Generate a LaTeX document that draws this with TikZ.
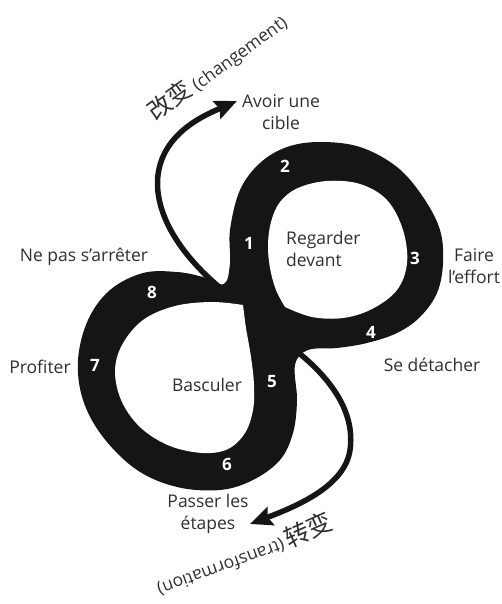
\documentclass[tikz,border=0pt]{standalone}
\usepackage{fontspec}
\setmainfont{Open Sans}
\newfontfamily\cjk{Noto Sans CJK SC}
\usetikzlibrary{arrows.meta}
\definecolor{ink}{HTML}{151515}
\definecolor{txt}{HTML}{303030}

\begin{document}
\begin{tikzpicture}[x=1pt, y=-1pt,
    lab/.style={text=txt, font=\fontsize{17.5}{22}\selectfont, align=center, inner sep=0pt},
    num/.style={text=white, font=\fontsize{17}{17}\selectfont\bfseries, inner sep=0pt},
    stem/.style={ink, line width=5.5pt, -{Stealth[length=22pt, width=19pt, inset=3pt]}}]

    \useasboundingbox (0,0) rectangle (501,604);

    \coordinate (upfoot) at (218,286);
    \coordinate (uptip) at (237,101);
    \coordinate (lowfoot) at (290,346);
    \coordinate (lowtip) at (250,524);

    % the two arrows leave the band at the crossing
    \draw[stem] (upfoot) .. controls (170,245) and (150,200) .. (160,165)
                         .. controls (170,130) and (205,115) .. (uptip);
    \draw[stem] (lowfoot) .. controls (335,380) and (355,415) .. (350,450)
                          .. controls (345,485) and (300,505) .. (lowtip);

    % the eight
    \fill[ink] plot[smooth cycle, tension=0.6] coordinates {
      (320,142) (360,147) (397,167) (423,197) (440,230) (443,263) (437,293)
      (420,317) (397,333) (367,343) (337,348) (308,350) (295,365) (297,400)
      (293,433) (280,460) (253,480) (220,490) (177,487) (137,470) (103,437)
      (83,400) (78,360) (88,320) (110,290) (143,273) (177,272) (203,277)
      (224,284) (230,263) (230,230) (240,190) (260,163) (287,147)};

    \fill[white] plot[smooth, tension=0.6] coordinates {
      (285,307) (276,290) (270,268) (268,245) (271,222) (280,202) (298,188)
      (327,181) (360,184) (387,200) (403,230) (407,263) (397,290) (372,309)
      (343,318) (312,317) (285,307)} -- cycle;
    \fill[white] plot[smooth, tension=0.6] coordinates {
      (243,305) (212,302) (175,306) (143,320) (122,345) (115,372) (122,402)
      (141,428) (170,446) (203,453) (228,449) (245,433) (253,410) (254,385)
      (251,357) (246,328) (243,305)} -- cycle;

    \foreach \k/\x/\y in {1/249/243, 2/285/166, 3/415/258, 4/371/332,
                          5/272/382, 6/227/464, 7/95/365, 8/152/292}
      \node[num] (n\k) at (\x,\y) {\k};

    \node[lab] (cible) at (281,112) {Avoir une\\cible};
    \node[lab, align=left, anchor=west] (devant) at (286,249) {Regarder\\devant};
    \node[lab] (effort) at (474,266) {Faire\\l’effort};
    \node[lab] (arret) at (84,257) {Ne pas s’arrêter};
    \node[lab] (profit) at (40,367) {Profiter};
    \node[lab] (bascul) at (207,385) {Basculer};
    \node[lab] (detach) at (432,365) {Se détacher};
    \node[lab] (etapes) at (208,514) {Passer les\\étapes};

    \node[lab, rotate=36] (chg) at (217,67) {{\cjk\fontsize{24}{24}\selectfont 改变} (changement)};
    \node[lab, rotate=24, font=\cjk\fontsize{25}{25}\selectfont] (zhuan) at (308,530) {转变};
    \node[lab, rotate=200] (transf) at (221,567) {(transformation)};

\end{tikzpicture}
\end{document}
